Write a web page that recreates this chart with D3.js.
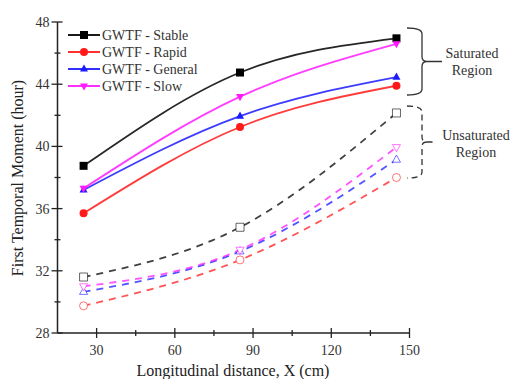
<!DOCTYPE html>
<html>
<head>
<meta charset="utf-8">
<script src="https://cdn.jsdelivr.net/npm/d3@7"></script>
<style>
    body { margin: 0; background: #fff; }
    svg text { font-family: "Liberation Serif", "DejaVu Serif", serif; }
</style>
</head>
<body>
<div id="chart"></div>
<script>
// distances along the column (cm)
const distances = [25, 85, 145];

// series names, colours, markers
const seriesNames = ['GWTF - Stable', 'GWTF - Rapid', 'GWTF - General', 'GWTF - Slow'];
const seriesColors = ['#000000', '#ff1a1a', '#1a1aff', '#ff1aff'];
const seriesSymbols = ['square', 'circle', 'triUp', 'triDown'];

// first temporal moment (hour), saturated region
const saturatedStable = [38.75, 44.75, 46.95];
const saturatedRapid = [35.7, 41.25, 43.9];
const saturatedGeneral = [37.2, 41.95, 44.45];
const saturatedSlow = [37.3, 43.2, 46.6];

// first temporal moment (hour), unsaturated region
const unsaturatedStable = [31.6, 34.8, 42.15];
const unsaturatedRapid = [29.75, 32.7, 38.0];
const unsaturatedGeneral = [30.65, 33.25, 39.15];
const unsaturatedSlow = [31.0, 33.35, 39.95];

const xTicks = [30, 60, 90, 120, 150];
const xMinorTicks = [45, 75, 105, 135];
const yTicks = [28, 32, 36, 40, 44, 48];
const yMinorTicks = [30, 34, 38, 42, 46];

let saturated = [saturatedStable, saturatedRapid, saturatedGeneral, saturatedSlow];
let unsaturated = [unsaturatedStable, unsaturatedRapid, unsaturatedGeneral, unsaturatedSlow];

let width = 511, height = 379;

let svg = d3.select("#chart").append("svg")
    .attr("width", width)
    .attr("height", height);

let x = d3.scaleLinear().domain([15, 150]).range([57.5, 409.5]);
let y = d3.scaleLinear().domain([28, 48]).range([333, 22]);

// marker paths
function symbolPath(type, s) {
    if (type === 'square') return d3.symbol(d3.symbolSquare, s * s)();
    if (type === 'circle') return d3.symbol(d3.symbolCircle, Math.PI * s * s / 4)();
    let h = s * 0.9, w = s / 2;
    if (type === 'triUp') return `M0,${-h / 2 - 1}L${w},${h / 2 - 1}L${-w},${h / 2 - 1}Z`;
    return `M0,${h / 2 + 1}L${w},${-h / 2 + 1}L${-w},${-h / 2 + 1}Z`;
}

let line = d3.line()
    .x((d, i) => x(distances[i]))
    .y(d => y(d))
    .curve(d3.curveMonotoneX);

// unsaturated (dashed, open symbols)
unsaturated.forEach((vals, k) => {
    svg.append("path")
        .attr("d", line(vals))
        .attr("fill", "none")
        .attr("stroke", seriesColors[k])
        .attr("stroke-opacity", 0.75)
        .attr("stroke-width", 1.8)
        .attr("stroke-dasharray", "7,6");

    svg.selectAll(".open" + k)
        .data(vals)
        .enter().append("path")
        .attr("transform", (d, i) => `translate(${x(distances[i])},${y(d)})`)
        .attr("d", symbolPath(seriesSymbols[k], 8))
        .attr("fill", "#fff")
        .attr("stroke", seriesColors[k])
        .attr("stroke-opacity", 0.6)
        .attr("stroke-width", 1);
});

// saturated (solid, filled symbols)
saturated.forEach((vals, k) => {
    svg.append("path")
        .attr("d", line(vals))
        .attr("fill", "none")
        .attr("stroke", seriesColors[k])
        .attr("stroke-opacity", 0.85)
        .attr("stroke-width", 1.8);

    svg.selectAll(".filled" + k)
        .data(vals)
        .enter().append("path")
        .attr("transform", (d, i) => `translate(${x(distances[i])},${y(d)})`)
        .attr("d", symbolPath(seriesSymbols[k], 8))
        .attr("fill", seriesColors[k]);
});

// axes
let xAxis = svg.append("g").attr("transform", `translate(0,${y(28)})`);
xAxis.append("line")
    .attr("x1", x(15)).attr("x2", x(150))
    .attr("stroke", "#222").attr("stroke-width", 1.5);
xAxis.selectAll(".xmaj").data(xTicks).enter().append("line")
    .attr("x1", d => x(d)).attr("x2", d => x(d))
    .attr("y1", -5).attr("y2", 5)
    .attr("stroke", "#222").attr("stroke-width", 1.3);
xAxis.selectAll(".xmin").data(xMinorTicks).enter().append("line")
    .attr("x1", d => x(d)).attr("x2", d => x(d))
    .attr("y1", -3).attr("y2", 3)
    .attr("stroke", "#222").attr("stroke-width", 1.3);
xAxis.selectAll(".xlab").data(xTicks).enter().append("text")
    .attr("x", d => x(d)).attr("y", 22)
    .attr("text-anchor", "middle")
    .attr("font-size", 14)
    .attr("fill", "#333")
    .text(d => d);

let yAxis = svg.append("g").attr("transform", `translate(${x(15)},0)`);
yAxis.append("line")
    .attr("y1", y(28)).attr("y2", y(48))
    .attr("stroke", "#222").attr("stroke-width", 1.5);
yAxis.selectAll(".ymaj").data(yTicks).enter().append("line")
    .attr("y1", d => y(d)).attr("y2", d => y(d))
    .attr("x1", -6).attr("x2", 5)
    .attr("stroke", "#222").attr("stroke-width", 1.3);
yAxis.selectAll(".ymin").data(yMinorTicks).enter().append("line")
    .attr("y1", d => y(d)).attr("y2", d => y(d))
    .attr("x1", -3).attr("x2", 3)
    .attr("stroke", "#222").attr("stroke-width", 1.3);
yAxis.selectAll(".ylab").data(yTicks).enter().append("text")
    .attr("x", -8).attr("y", d => y(d) + 5)
    .attr("text-anchor", "end")
    .attr("font-size", 14)
    .attr("fill", "#333")
    .text(d => d);

// axis titles
svg.append("text")
    .attr("x", 233).attr("y", 376)
    .attr("text-anchor", "middle")
    .attr("font-size", 16)
    .attr("fill", "#222")
    .text("Longitudinal distance, X (cm)");

svg.append("text")
    .attr("transform", "translate(23,178) rotate(-90)")
    .attr("text-anchor", "middle")
    .attr("font-size", 16)
    .attr("fill", "#222")
    .text("First Temporal Moment (hour)");

// legend
let legend = svg.append("g").attr("transform", "translate(68,35)");
seriesNames.forEach((name, k) => {
    let row = legend.append("g").attr("transform", `translate(0,${k * 17})`);
    row.append("line")
        .attr("x1", 0).attr("x2", 32)
        .attr("stroke", seriesColors[k]).attr("stroke-width", 1.8);
    row.append("path")
        .attr("transform", "translate(16,0)")
        .attr("d", symbolPath(seriesSymbols[k], 8))
        .attr("fill", seriesColors[k]);
    row.append("text")
        .attr("x", 34).attr("y", 5)
        .attr("font-size", 14)
        .attr("font-family", "'DejaVu Serif Condensed', 'Liberation Serif', serif")
        .attr("fill", "#333")
        .text(name);
});

// region braces
function brace(top, bottom, xl, xb, tip) {
    let mid = (top + bottom) / 2;
    return `M${xl},${top} Q${xb},${top} ${xb},${top + 6} L${xb},${mid - 5} Q${xb},${mid} ${xb + 5},${mid} L${tip},${mid}` +
        ` M${xb + 5},${mid} Q${xb},${mid} ${xb},${mid + 5} L${xb},${bottom - 6} Q${xb},${bottom} ${xl},${bottom}`;
}

svg.append("path")
    .attr("d", brace(28, 95, 407, 422, 442))
    .attr("fill", "none").attr("stroke", "#333").attr("stroke-width", 1.3);
svg.append("path")
    .attr("d", brace(106, 178, 407, 422, 436))
    .attr("fill", "none").attr("stroke", "#333").attr("stroke-width", 1.3)
    .attr("stroke-dasharray", "6,4");

let regionLabels = [
    {lines: ["Saturated", "Region"], cx: 472, y0: 58},
    {lines: ["Unsaturated", "Region"], cx: 476, y0: 140}
];
regionLabels.forEach(r => {
    r.lines.forEach((t, i) => {
        svg.append("text")
            .attr("x", r.cx).attr("y", r.y0 + i * 17)
            .attr("text-anchor", "middle")
            .attr("font-size", 14)
            .attr("font-family", "'DejaVu Serif Condensed', 'Liberation Serif', serif")
            .attr("fill", "#333")
            .text(t);
    });
});
</script>
</body>
</html>
